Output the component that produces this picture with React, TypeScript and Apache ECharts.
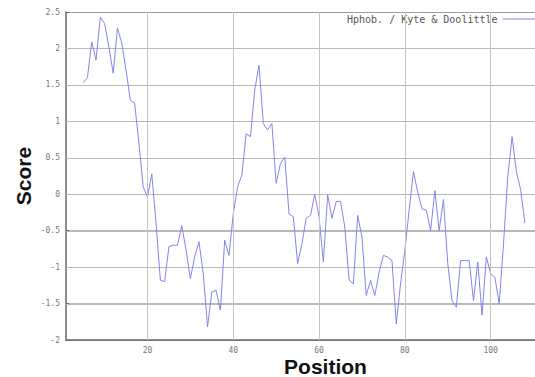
import React, { useEffect, useRef } from "react";
import * as echarts from "echarts";

// Kyte & Doolittle hydropathy profile (window of 9), first scored residue is 5
const startPosition = 5;
const scores = [
  1.53, 1.6, 2.09, 1.84, 2.43, 2.34, 2.02, 1.66, 2.28, 2.07,
  1.7, 1.29, 1.25, 0.7, 0.1, -0.04, 0.28, -0.4, -1.18, -1.2,
  -0.72, -0.7, -0.7, -0.43, -0.77, -1.16, -0.86, -0.65, -1.09, -1.82,
  -1.34, -1.32, -1.59, -0.63, -0.84, -0.27, 0.1, 0.26, 0.83, 0.79,
  1.43, 1.77, 0.97, 0.88, 0.97, 0.15, 0.42, 0.51, -0.27, -0.31,
  -0.95, -0.68, -0.33, -0.29, 0.0, -0.31, -0.93, -0.01, -0.33, -0.1,
  -0.1, -0.45, -1.18, -1.23, -0.29, -0.59, -1.39, -1.18, -1.39, -1.07,
  -0.84, -0.86, -0.91, -1.78, -1.23, -0.77, -0.22, 0.31, 0.03, -0.2,
  -0.22, -0.5, 0.05, -0.5, -0.07, -0.95, -1.46, -1.55, -0.91, -0.91,
  -0.91, -1.46, -0.93, -1.66, -0.86, -1.09, -1.14, -1.5, -0.68, 0.24,
  0.79, 0.31, 0.06, -0.4,
];
const xTickValues = [20, 40, 60, 80, 100];
const yTickValues = [-1.5, -1, -0.5, 0, 0.5, 1, 1.5, 2];
const xMin = 1;
const xMax = 122;
const seriesName = "Hphob. / Kyte & Doolittle";

const mono = "DejaVu Sans Mono";
const sans = "Liberation Sans";
const gridColor = "#c4c4c4";
const ruleColor = "#b8b8b8";

export default function App() {
  const ref = useRef<HTMLDivElement>(null);

  useEffect(() => {
    if (!ref.current) return;
    const chart = echarts.init(ref.current, null, { renderer: "svg" });
    const data = scores.map((v, i) => [startPosition + i, v]);

    const titleStyle = {
      fontFamily: sans,
      fontWeight: "bold",
      fontSize: 21,
      lineHeight: 22,
      color: "#111",
    };

    const verticalGrid = xTickValues.map((v) => [
      { coord: [v, -2] },
      { coord: [v, 2.5] },
    ]);

    chart.setOption({
      animation: false,
      backgroundColor: "#ffffff",
      grid: {
        left: 66,
        top: 12,
        width: 519,
        height: 328,
        outerBoundsMode: "none",
        containLabel: false,
      },
      legend: {
        left: 347,
        top: 12,
        align: "right",
        icon: "rect",
        itemWidth: 34,
        itemHeight: 1,
        padding: [2, 0, 0, 0],
        textStyle: { fontFamily: mono, fontSize: 10, color: "#555" },
        data: [seriesName],
      },
      xAxis: [
        {
          type: "value",
          min: xMin,
          max: xMax,
          name: "Position",
          nameLocation: "middle",
          nameGap: 15,
          nameMoveOverlap: false,
          nameTextStyle: titleStyle,
          axisLine: { show: true, onZero: false, lineStyle: { color: "#666", width: 1.5 } },
          axisTick: {
            show: true,
            inside: true,
            length: 4,
            customValues: xTickValues,
            lineStyle: { color: "#666" },
          },
          axisLabel: {
            customValues: xTickValues,
            fontFamily: mono,
            fontSize: 8,
            color: "#777",
            margin: 6,
          },
          splitLine: { show: false },
        },
        {
          // top frame of the plot
          type: "value",
          position: "top",
          min: xMin,
          max: xMax,
          axisLine: { show: true, onZero: false, lineStyle: { color: "#a0a0a0", width: 1 } },
          axisTick: { show: false },
          axisLabel: { show: false },
          splitLine: { show: false },
        },
      ],
      yAxis: {
        type: "value",
        min: -2,
        max: 2.5,
        interval: 0.5,
        name: "Score",
        nameLocation: "middle",
        nameGap: 32,
        nameMoveOverlap: false,
        nameTextStyle: titleStyle,
        axisLine: { show: true, onZero: false, lineStyle: { color: "#666", width: 1.5 } },
        axisTick: { show: true, inside: true, length: 3, lineStyle: { color: "#666" } },
        axisLabel: {
          fontFamily: mono,
          fontSize: 8,
          color: "#777",
          margin: 6,
        },
        splitLine: { show: true, lineStyle: { color: ruleColor, width: 1 } },
      },
      series: [
        {
          // horizontal grid rules, one pixel tall bands at each score level
          type: "custom",
          name: "score grid",
          silent: true,
          z: 1,
          clip: false,
          data: yTickValues.map((v) => [xMin, v]),
          encode: { x: 0, y: 1 },
          renderItem: (_params: any, api: any) => {
            const v = api.value(1);
            const p0 = api.coord([xMin, v]);
            const p1 = api.coord([xMax, v]);
            return {
              type: "rect",
              shape: {
                x: p0[0],
                y: Math.round(p0[1]),
                width: p1[0] - p0[0],
                height: 1,
              },
              style: { fill: ruleColor },
              silent: true,
            };
          },
        },
        {
          name: seriesName,
          type: "line",
          data,
          symbol: "none",
          z: 3,
          lineStyle: { color: "#8484f0", width: 1 },
          itemStyle: { color: "#8484f0" },
          // vertical grid lines at the labelled positions
          markLine: {
            silent: true,
            symbol: ["none", "none"],
            label: { show: false },
            lineStyle: { color: gridColor, width: 1, type: "solid" },
            data: verticalGrid,
          },
        },
      ],
    });

    return () => chart.dispose();
  }, []);

  return (
    <div
      ref={ref}
      style={{ position: "fixed", left: 0, top: 0, width: 535, height: 377 }}
    />
  );
}
